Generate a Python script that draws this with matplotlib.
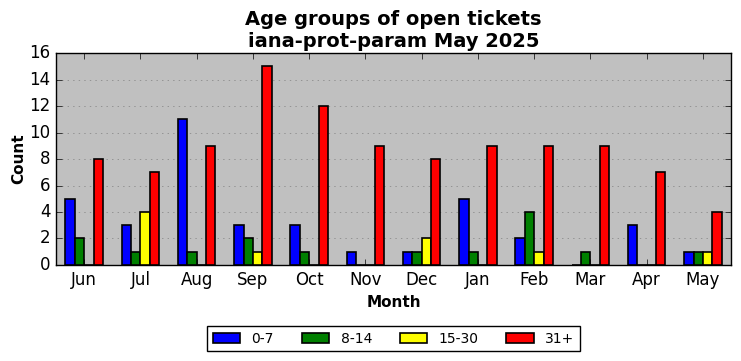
import numpy as np
import matplotlib
matplotlib.use("Agg")
import matplotlib.pyplot as plt

plt.style.use("classic")

months = ["Jun", "Jul", "Aug", "Sep", "Oct", "Nov", "Dec", "Jan", "Feb", "Mar", "Apr", "May"]
age_0_7 = [5, 3, 11, 3, 3, 1, 1, 5, 2, 0, 3, 1]
age_8_14 = [2, 1, 1, 2, 1, 0, 1, 1, 4, 1, 0, 1]
age_15_30 = [0, 4, 0, 1, 0, 0, 2, 0, 1, 0, 0, 1]
age_31p = [8, 7, 9, 15, 12, 9, 8, 9, 9, 9, 7, 4]

series = [("0-7", age_0_7, "blue"), ("8-14", age_8_14, "green"),
          ("15-30", age_15_30, "yellow"), ("31+", age_31p, "red")]

fig = plt.figure(figsize=(7.41, 3.61), dpi=100, facecolor="white")
ax = fig.add_axes([0.0756, 0.266, 0.911, 0.587])
ax.set_facecolor("#c0c0c0")

x = np.arange(len(months))
w = 1 / 6
for i, (name, vals, col) in enumerate(series):
    ax.bar(x + (i - 1.5) * w, vals, w, align="center", color=col,
           edgecolor="black", linewidth=1.2, label=name, zorder=3)

ax.set_xlim(-0.5, len(months) - 0.5)
ax.set_ylim(0, 16)
ax.set_xticks(x)
ax.set_xticklabels(months)
ax.set_yticks(range(0, 17, 2))
ax.tick_params(labelsize=12)
ax.yaxis.grid(True, linestyle=":", color="gray", zorder=0)
ax.set_axisbelow(True)

ax.set_xlabel("Month", fontsize=11, fontweight="bold")
ax.set_ylabel("Count", fontsize=11, fontweight="bold", labelpad=2)
ax.set_title("Age groups of open tickets\niana-prot-param May 2025",
             fontsize=14, fontweight="bold", y=0.995)

ax.legend(loc="upper center", bbox_to_anchor=(0.5, -0.255), ncol=4,
          fontsize=10, frameon=True, handlelength=2.0, columnspacing=2.0)

fig.savefig("out.png", dpi=100, facecolor="white")
